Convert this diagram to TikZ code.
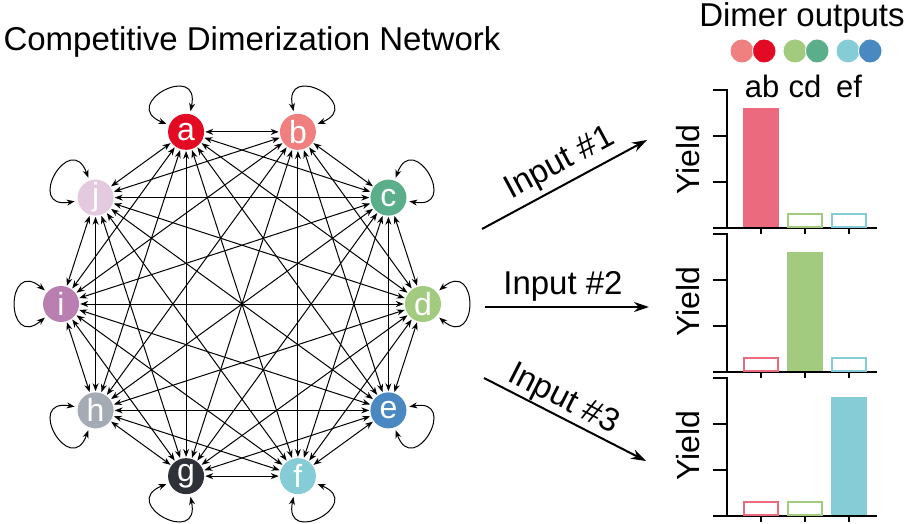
\documentclass[tikz,border=0pt]{standalone}
\usepackage{fontspec}
\setmainfont{Liberation Sans}
\usetikzlibrary{arrows.meta,calc}
\definecolor{ca}{RGB}{227,10,35}
\definecolor{cb}{RGB}{240,128,128}
\definecolor{cc}{RGB}{91,174,138}
\definecolor{cd}{RGB}{163,203,127}
\definecolor{ce}{RGB}{74,136,194}
\definecolor{cf}{RGB}{134,204,214}
\definecolor{cg}{RGB}{46,50,56}
\definecolor{ch}{RGB}{165,171,181}
\definecolor{ci}{RGB}{185,127,176}
\definecolor{cj}{RGB}{227,202,222}
\definecolor{barr}{RGB}{236,106,126}
\newcommand{\fs}[1]{\fontsize{#1}{#1}\selectfont}
\begin{document}
\begin{tikzpicture}[x=1pt,y=-1pt,
  nd/.style={circle,minimum size=36pt,inner sep=0pt,text=white,font=\fs{32}},
  ed/.style={{Stealth[length=8pt,width=6pt]}-{Stealth[length=8pt,width=6pt]},line width=1pt,shorten <=1pt,shorten >=1pt},
  lp/.style={{Stealth[length=8pt,width=6pt]}-{Stealth[length=8pt,width=6pt]},line width=1pt,shorten <=3pt,shorten >=3pt,looseness=6},
  ax/.style={line width=2.6pt},
  ob/.style={line width=2pt},
  lab/.style={font=\fs{33}},
  big/.style={line width=2pt,-{Stealth[length=15pt,width=10pt]}}]
\useasboundingbox (0,0) rectangle (906,524);
\node[lab,anchor=west] (title) at (0,42) {Competitive Dimerization Network};
% nodes
\def\cx{242}\def\cy{304}\def\R{181}
\foreach \n/\ang [count=\k] in {a/108,b/72,c/36,d/0,e/-36,f/-72,g/-108,h/-144,i/180,j/144}{
  \node[nd,fill=c\n] (\n) at ({\cx+\R*cos(\ang)},{\cy-\R*sin(\ang)}) {\n};
}
% edges
\foreach \p/\q in {a/b,a/c,a/d,a/e,a/f,a/g,a/h,a/i,a/j,b/c,b/d,b/e,b/f,b/g,b/h,b/i,b/j,c/d,c/e,c/f,c/g,c/h,c/i,c/j,d/e,d/f,d/g,d/h,d/i,d/j,e/f,e/g,e/h,e/i,e/j,f/g,f/h,f/i,f/j,g/h,g/i,g/j,h/i,h/j,i/j}{
  \draw[ed] (\p) -- (\q);
}
% loops
\foreach \n/\ang in {a/118,b/62,c/30,d/0,e/-30,f/-62,g/-118,h/-150,i/180,j/150}{
  \path (\n) edge[lp,out=\ang+40,in=\ang-40] (\n);
}
% big arrows
\coordinate (s1) at (482,229); \coordinate (t1) at (647,140);
\coordinate (s2) at (485,307); \coordinate (t2) at (649,307);
\coordinate (s3) at (484,378); \coordinate (t3) at (646,461);
\draw[big] (s1) -- (t1);
\draw[big] (s2) -- (t2);
\draw[big] (s3) -- (t3);
\node[lab,rotate=28.3] (in1) at (560,164) {Input \#1};
\node[lab] (in2) at (563,286) {Input \#2};
\node[lab,rotate=-27] (in3) at (563,400) {Input \#3};
% legend
\node[lab] (dim) at (802,18) {Dimer outputs};
\foreach \l/\r/\x in {cb/ca/742,cd/cc/795,cf/ce/848}{
  \fill[\l] (\x,51) circle (11.5);
  \fill[\r] (\x+22,51) circle (11.5);
  \begin{scope}
    \clip (\x,51) circle (11.5);
    \fill[white,opacity=0.35] (\x+22,51) circle (11.5);
  \end{scope}
  \draw[white,line width=0.8pt] (\x+22,51) ++(-11.5,0) arc (180:120:11.5);
  \draw[white,line width=0.8pt] (\x+22,51) ++(-11.5,0) arc (180:240:11.5);
}
\node[lab,font=\fs{31}] (lab1) at (762,86) {ab};
\node[lab,font=\fs{31}] (lab2) at (805,86) {cd};
\node[lab,font=\fs{31}] (lab3) at (849,86) {ef};
% charts
\foreach \t/\b/\yl [count=\k] in {90/228/160,234/372/302,378/516/446}{
  \draw[ax] (713,\t) -- (727,\t) -- (727,\b);
  \draw[ax] (713,\b) -- (877,\b);
  \draw[ax] (713,{\t+(\b-\t)/3}) -- (727,{\t+(\b-\t)/3});
  \draw[ax] (713,{\t+2*(\b-\t)/3}) -- (727,{\t+2*(\b-\t)/3});
  \foreach \xx in {761,805,849}{\draw[ax] (\xx,\b) -- (\xx,\b+6);}
  \node[lab,rotate=90,font=\fs{32}] (y\k) at (688,\yl) {Yield};
}
% panel 1
\fill[barr] (743,108) rectangle (779,227);
\draw[ob,cd] (788,227) rectangle (822,214);
\draw[ob,cf] (832,227) rectangle (866,214);
% panel 2
\draw[ob,barr] (744,371) rectangle (778,358);
\fill[cd] (787,252) rectangle (823,371);
\draw[ob,cf] (832,371) rectangle (866,358);
% panel 3
\draw[ob,barr] (744,515) rectangle (778,502);
\draw[ob,cd] (788,515) rectangle (822,502);
\fill[cf] (831,397) rectangle (867,515);
\end{tikzpicture}
\end{document}
